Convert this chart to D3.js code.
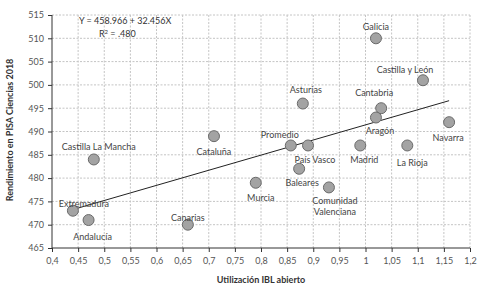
<!DOCTYPE html>
<html>
<head>
<meta charset="utf-8">
<script src="https://cdn.jsdelivr.net/npm/d3@7"></script>
<style>
    body { margin: 0; background: #fff; }
    text { font-family: Lato, "Open Sans", sans-serif; }
    .axis text { fill: #555; font-size: 9px; }
    .axis path, .axis line { stroke: #333; }
    .grid line { stroke: #c4c4c4; stroke-dasharray: 2,1.5; }
</style>
</head>
<body>
<div id="chart"></div>
<script>
// data
let regions = ["Galicia", "Castilla y León", "Asturias", "Cantabria", "Aragón", "Navarra",
    "Cataluña", "Promedio", "País Vasco", "Madrid", "La Rioja", "Baleares", "Murcia",
    "Comunidad Valenciana", "Castilla La Mancha", "Extremadura", "Andalucía", "Canarias"];
let iblValues = [1.02, 1.11, 0.88, 1.03, 1.02, 1.16, 0.71, 0.857, 0.89, 0.99, 1.08, 0.873, 0.79,
    0.93, 0.48, 0.44, 0.47, 0.66];
let pisaValues = [510, 501, 496, 495, 493, 492, 489, 487, 487, 487, 487, 482, 479, 478, 484, 473, 471, 470];
let xTicks = [0.4, 0.45, 0.5, 0.55, 0.6, 0.65, 0.7, 0.75, 0.8, 0.85, 0.9, 0.95, 1, 1.05, 1.1, 1.15, 1.2];
let yTicks = [465, 470, 475, 480, 485, 490, 495, 500, 505, 510, 515];
let intercept = 458.966, slope = 32.456;
let lineRange = [0.44, 1.16];

// where each label sits relative to its point (px)
let labelPos = {
    "Galicia": [0, -11], "Castilla y León": [-18, -10], "Asturias": [3, -14], "Cantabria": [-7, -15],
    "Aragón": [4, 13], "Navarra": [-1, 16], "Cataluña": [0, 16], "Promedio": [-11, -10],
    "País Vasco": [7, 15], "Madrid": [4, 15], "La Rioja": [5, 18], "Baleares": [3, 14],
    "Murcia": [5, 15], "Comunidad Valenciana": [6, 14], "Castilla La Mancha": [5, -12],
    "Extremadura": [11, -7], "Andalucía": [4, 17], "Canarias": [0, -7]
};

let margin = {top: 15, right: 19, bottom: 40, left: 52};
let width = 489 - margin.left - margin.right;
let height = 288 - margin.top - margin.bottom;

let svg = d3.select("#chart").append("svg")
    .attr("width", 489)
    .attr("height", 288)
    .append("g")
    .attr("transform", "translate(" + margin.left + "," + margin.top + ")");

let x = d3.scaleLinear().domain([0.4, 1.2]).range([0, width]);
let y = d3.scaleLinear().domain([465, 515]).range([height, 0]);
let fmt = d => String(d).replace(".", ",");

// grid
svg.append("g").attr("class", "grid")
    .selectAll("line.v").data(xTicks.slice(1)).enter().append("line")
    .attr("x1", d => x(d)).attr("x2", d => x(d))
    .attr("y1", 0).attr("y2", height);
svg.select(".grid")
    .selectAll("line.h").data(yTicks.slice(1)).enter().append("line")
    .attr("x1", 0).attr("x2", width)
    .attr("y1", d => y(d)).attr("y2", d => y(d));

// axes
svg.append("g")
    .attr("class", "axis")
    .attr("transform", "translate(0," + height + ")")
    .call(d3.axisBottom(x).tickValues(xTicks).tickFormat(fmt).tickSize(4).tickPadding(6))
    .select(".domain").attr("d", "M0,0H" + width);
svg.append("g")
    .attr("class", "axis")
    .call(d3.axisLeft(y).tickValues(yTicks).tickSize(4).tickPadding(4))
    .select(".domain").attr("d", "M0,0V" + height);

// axis titles
svg.append("text")
    .attr("x", width / 2)
    .attr("y", height + 35)
    .attr("text-anchor", "middle")
    .attr("font-size", 9)
    .attr("font-weight", "bold")
    .attr("fill", "#333")
    .text("Utilización IBL abierto");
svg.append("text")
    .attr("transform", "rotate(-90)")
    .attr("x", -115)
    .attr("y", -39)
    .attr("text-anchor", "middle")
    .attr("font-size", 9)
    .attr("font-weight", "bold")
    .attr("fill", "#333")
    .text("Rendimiento en PISA Ciencias 2018");

// regression line
svg.append("path")
    .datum(lineRange)
    .attr("fill", "none")
    .attr("stroke", "#222")
    .attr("stroke-width", 1)
    .attr("d", d3.line().x(d => x(d)).y(d => y(intercept + slope * d)));

// equation
svg.append("text")
    .attr("x", x(0.54))
    .attr("y", 9)
    .attr("text-anchor", "middle")
    .attr("font-size", 9)
    .attr("fill", "#333")
    .text("Y = 458.966 + 32.456X");
svg.append("text")
    .attr("x", x(0.525))
    .attr("y", 22)
    .attr("text-anchor", "middle")
    .attr("font-size", 9)
    .attr("fill", "#333")
    .html("R<tspan font-size='6' dy='-3'>2</tspan><tspan dy='3'> = .480</tspan>");

// points
svg.selectAll("circle")
    .data(regions)
    .enter()
    .append("circle")
    .attr("cx", (d, i) => x(iblValues[i]))
    .attr("cy", (d, i) => y(pisaValues[i]))
    .attr("r", 5.5)
    .attr("fill", "#a3a3a3")
    .attr("stroke", "#6a6a6a")
    .attr("stroke-width", 1);

// labels
let labels = svg.selectAll(".lbl")
    .data(regions)
    .enter()
    .append("text")
    .attr("class", "lbl")
    .attr("text-anchor", "middle")
    .attr("font-size", 9)
    .attr("fill", "#444")
    .attr("x", (d, i) => x(iblValues[i]) + labelPos[d][0])
    .attr("y", (d, i) => y(pisaValues[i]) + labelPos[d][1] + 3);
labels.each(function(d) {
    let t = d3.select(this);
    if (d === "Comunidad Valenciana") {
        t.append("tspan").text("Comunidad");
        t.append("tspan").attr("x", t.attr("x")).attr("dy", 11).text("Valenciana");
    } else {
        t.text(d);
    }
});
</script>
</body>
</html>
